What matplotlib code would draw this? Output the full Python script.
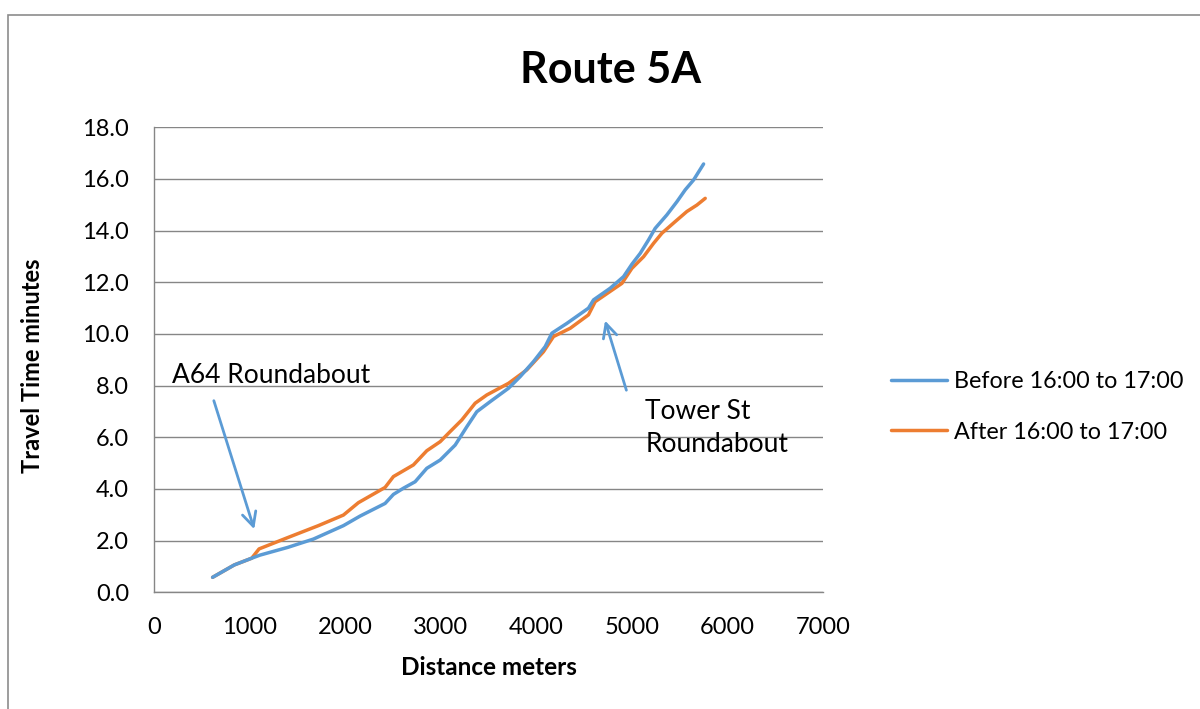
import matplotlib
matplotlib.use("Agg")
import matplotlib.pyplot as plt
from matplotlib.patches import Rectangle

plt.rcParams['font.family'] = ['Lato', 'DejaVu Sans']

before_x = [613, 840, 1022, 1109, 1400, 1667, 1981, 2155, 2417, 2504, 2609, 2731, 2853, 2993,
            3150, 3272, 3376, 3516, 3708, 3830, 3969, 4091, 4161, 4318, 4544, 4597, 4771, 4911,
            4998, 5085, 5172, 5242, 5364, 5469, 5556, 5643, 5748]
before_y = [0.58, 1.06, 1.32, 1.44, 1.74, 2.06, 2.58, 2.95, 3.44, 3.79, 4.03, 4.28, 4.80, 5.12,
            5.70, 6.41, 6.99, 7.38, 7.90, 8.35, 8.93, 9.51, 10.03, 10.41, 11.00, 11.32, 11.77, 12.22,
            12.70, 13.12, 13.64, 14.09, 14.61, 15.12, 15.58, 15.96, 16.58]
after_x = [613, 840, 1022, 1099, 1400, 1719, 1981, 2138, 2417, 2504, 2713, 2853, 2993, 3097,
           3219, 3359, 3481, 3708, 3899, 4073, 4178, 4353, 4544, 4614, 4894, 4998, 5120, 5225,
           5312, 5451, 5573, 5678, 5765]
after_y = [0.58, 1.06, 1.32, 1.68, 2.12, 2.58, 2.99, 3.47, 4.06, 4.48, 4.93, 5.48, 5.83, 6.22,
           6.67, 7.32, 7.64, 8.09, 8.61, 9.31, 9.90, 10.22, 10.74, 11.25, 11.96, 12.54, 12.99, 13.51,
           13.90, 14.35, 14.74, 14.99, 15.25]

x_ticks = [0, 1000, 2000, 3000, 4000, 5000, 6000, 7000]
y_ticks = [0, 2, 4, 6, 8, 10, 12, 14, 16, 18]

BLUE = '#5B9BD5'
ORANGE = '#ED7D31'
W, H = 1200, 709

fig = plt.figure(figsize=(12, 7.09), dpi=100)
ax = fig.add_axes([154 / W, 1 - 592.3 / H, (823.3 - 154) / W, (592.3 - 127.3) / H])

for yt in y_ticks:
    ax.axhline(yt, color='#868686', lw=1.0, zorder=0)

ax.plot(before_x, before_y, color=BLUE, lw=2.5, label='Before 16:00 to 17:00', solid_capstyle='round', zorder=3)
ax.plot(after_x, after_y, color=ORANGE, lw=2.5, label='After 16:00 to 17:00', solid_capstyle='round', zorder=2)

ax.set_xlim(0, 7000)
ax.set_ylim(0, 18)
ax.set_xticks(x_ticks)
ax.set_xticklabels([str(v) for v in x_ticks])
ax.set_yticks(y_ticks)
ax.set_yticklabels([f'{v:.1f}' for v in y_ticks])
ax.tick_params(length=0, labelsize=17, colors='black')
ax.tick_params(axis='y', pad=18)
ax.tick_params(axis='x', pad=18)
for s in ['top', 'right']:
    ax.spines[s].set_visible(False)
for s in ['left', 'bottom']:
    ax.spines[s].set_color('#868686')
    ax.spines[s].set_linewidth(1.0)

ax.set_xlabel('Distance meters', fontsize=17.5, fontweight='bold', va='center')
ax.xaxis.set_label_coords(0.5005, -0.161)
ax.set_ylabel('Travel Time minutes', fontsize=17, fontweight='bold', va='center')
ax.yaxis.set_label_coords(-0.181, 0.488)
fig.text(611 / W, 1 - 70 / H, 'Route 5A', fontsize=31, fontweight='bold', ha='center', va='center')

# annotations
ax.annotate('', xy=(1057, 2.34), xytext=(617, 7.52),
            arrowprops=dict(arrowstyle='->,head_length=1.0,head_width=0.5', color=BLUE, lw=2))
ax.text(190, 8.41, 'A64 Roundabout', fontsize=19, ha='left', va='center')
ax.annotate('', xy=(4709, 10.62), xytext=(4949, 7.72),
            arrowprops=dict(arrowstyle='->,head_length=1.0,head_width=0.5', color=BLUE, lw=2))
ax.text(5138, 6.36, 'Tower St\nRoundabout', fontsize=19, ha='left', va='center', linespacing=1.4)

leg = fig.legend(loc='center left', bbox_to_anchor=(870 / W, 1 - 407 / H), frameon=False,
                 fontsize=16.8, handlelength=2.4, handletextpad=0.3, labelspacing=1.25)

fig.patches.append(Rectangle((8 / W, -0.1), 1.2, 1.1 - 15 / H, transform=fig.transFigure,
                             fill=False, edgecolor='#8c8c8c', lw=1.2))

fig.savefig('out.png', dpi=100)
